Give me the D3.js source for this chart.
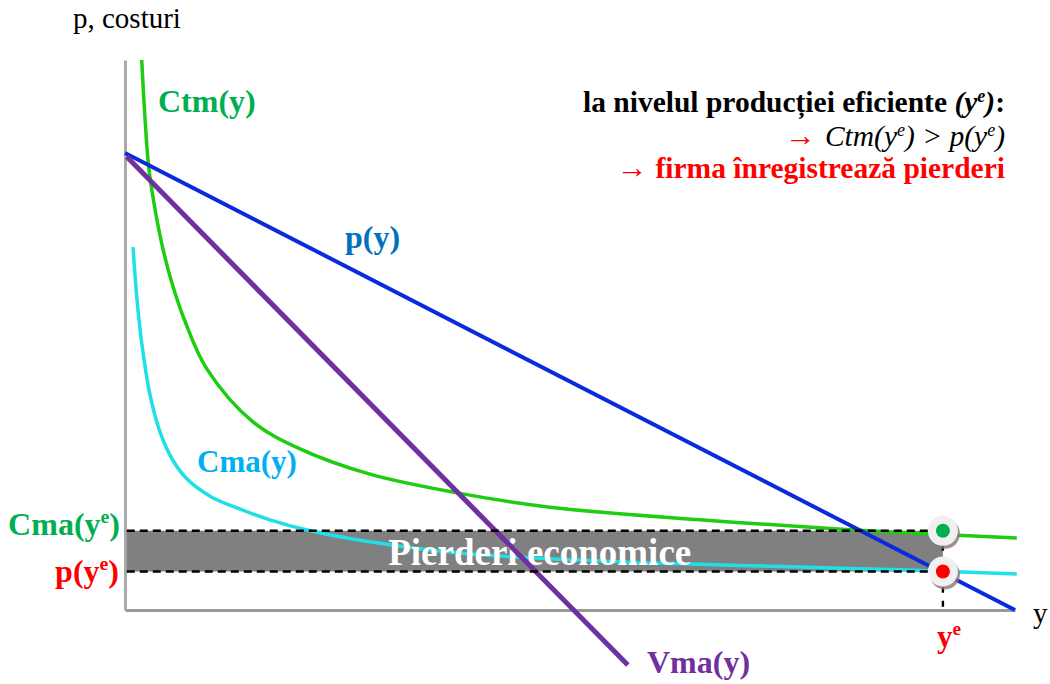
<!DOCTYPE html>
<html>
<head>
<meta charset="utf-8">
<script src="https://cdn.jsdelivr.net/npm/d3@7"></script>
<style>
  body { margin: 0; background: #fff; }
</style>
</head>
<body>
<script>
const WIDTH = 1050;
const HEIGHT = 684;
const FONT = '"Liberation Serif", "Times New Roman", serif';

// curves, [output y, value]
var ctmPoints = [[1.876, 100], [2.225, 90], [2.64, 80.9], [3.2, 74.5], [4.16, 66.4], [5.28, 59.4],
    [6.74, 52.5], [9.21, 43.8], [14.38, 34.2], [19.66, 29.3], [27.53, 24.7], [37.3, 21.3],
    [47.75, 18.7], [64.6, 16.4], [81.8, 14.55], [100.2, 13.1]];
var cmaPoints = [[0.9, 66], [1.35, 56.4], [1.91, 48.2], [2.81, 39.1], [3.93, 32.4], [5.28, 27.5],
    [6.97, 23.8], [9.55, 20.7], [12.58, 18.55], [16.29, 16.4], [20.45, 14.55], [27.53, 12.4],
    [34.27, 10.9], [42.13, 9.8], [53.37, 8.9], [62.7, 8.4], [75.84, 7.8], [87.08, 7.3], [100.2, 6.55]];
var pricePoints = [[0, 83.1], [100, 0]];
var vmaPoints = [[0.2, 82.4], [56.5, -10]];

var ye = 91.9;
var ctmYe = 14.4;
var pYe = 7.0;

var svg = d3.select('body').append('svg')
    .attr('width', WIDTH)
    .attr('height', HEIGHT)
    .attr('font-family', FONT);

var xScale = d3.scaleLinear().domain([0, 100]).range([125, 1015]);
var yScale = d3.scaleLinear().domain([0, 100]).range([610, 60]);

var line = d3.line()
    .x(function (d) { return xScale(d[0]); })
    .y(function (d) { return yScale(d[1]); });
var smooth = d3.line()
    .x(function (d) { return xScale(d[0]); })
    .y(function (d) { return yScale(d[1]); })
    .curve(d3.curveCatmullRom.alpha(0.5));

// axes without ticks
svg.append('g')
    .attr('transform', 'translate(0,' + yScale(0) + ')')
    .call(d3.axisBottom(xScale).tickValues([]).tickSizeOuter(0))
    .select('.domain').attr('stroke', '#999').attr('stroke-width', 3);
svg.append('g')
    .attr('transform', 'translate(' + xScale(0) + ',0)')
    .call(d3.axisLeft(yScale).tickValues([]).tickSizeOuter(0))
    .select('.domain').attr('stroke', '#aaa').attr('stroke-width', 3);

// loss area
svg.append('rect')
    .attr('x', xScale(0.2))
    .attr('y', yScale(ctmYe))
    .attr('width', xScale(ye) - xScale(0.2))
    .attr('height', yScale(pYe) - yScale(ctmYe))
    .attr('fill', '#808080');

svg.append('path').attr('d', smooth(cmaPoints))
    .attr('fill', 'none').attr('stroke', '#1EE0E6').attr('stroke-width', 3.5);
svg.append('path').attr('d', smooth(ctmPoints))
    .attr('fill', 'none').attr('stroke', '#1ECC10').attr('stroke-width', 3.5);

svg.append('text')
    .attr('x', xScale(46.6)).attr('y', 565)
    .attr('text-anchor', 'middle')
    .attr('font-family', FONT)
    .attr('font-size', 37).attr('font-weight', 'bold').attr('fill', '#fff')
    .text('Pierderi economice');

svg.append('path').attr('d', line(pricePoints))
    .attr('fill', 'none').attr('stroke', '#0A2BDC').attr('stroke-width', 4);
svg.append('path').attr('d', line(vmaPoints))
    .attr('fill', 'none').attr('stroke', '#7030A0').attr('stroke-width', 5);

// dashed guides
[ctmYe, pYe].forEach(function (v) {
    svg.append('line')
        .attr('x1', xScale(0.2)).attr('x2', xScale(ye) - 6)
        .attr('y1', yScale(v)).attr('y2', yScale(v))
        .attr('stroke', '#000').attr('stroke-width', 2.4)
        .attr('stroke-dasharray', '8,5');
});
svg.append('line')
    .attr('x1', xScale(ye)).attr('x2', xScale(ye))
    .attr('y1', yScale(ctmYe)).attr('y2', yScale(0))
    .attr('stroke', '#000').attr('stroke-width', 2.4)
    .attr('stroke-dasharray', '6,8');

// markers
[[ctmYe, '#00B050'], [pYe, '#FF0000']].forEach(function (m) {
    var cx = xScale(ye), cy = yScale(m[0]);
    svg.append('circle').attr('cx', cx + 2).attr('cy', cy + 3).attr('r', 15).attr('fill', '#8c7474').attr('opacity', 0.8);
    svg.append('circle').attr('cx', cx).attr('cy', cy).attr('r', 15).attr('fill', '#f0f0f0');
    svg.append('circle').attr('cx', cx).attr('cy', cy).attr('r', 7).attr('fill', m[1]);
});

// labels
function label(x, y, txt, color, size, anchor, bold) {
    return svg.append('text')
        .attr('x', x).attr('y', y)
        .attr('font-family', FONT)
        .attr('fill', color).attr('font-size', size)
        .attr('font-weight', bold ? 'bold' : 'normal')
        .attr('text-anchor', anchor || 'start')
        .text(txt);
}
function sup(t, txt) {
    t.append('tspan').attr('dy', -12).attr('font-size', '0.62em').text(txt);
    return t;
}

label(73, 28, 'p, costuri', '#000', 29, 'start', false);
label(1033, 623, 'y', '#000', 29, 'start', false);
label(158, 112, 'Ctm(y)', '#00B050', 32, 'start', true);
label(345, 248, 'p(y)', '#0070C0', 32, 'start', true);
label(197, 472, 'Cma(y)', '#00B0F0', 31, 'start', true);
label(647, 673, 'Vma(y)', '#7030A0', 32, 'start', true);

var t1 = label(120, 535, 'Cma(y', '#00B050', 32, 'end', true);
sup(t1, 'e');
t1.append('tspan').attr('dy', 12).text(')');
var t2 = label(119, 582, 'p(y', '#FF0000', 32, 'end', true);
sup(t2, 'e');
t2.append('tspan').attr('dy', 12).text(')');
var t3 = label(937, 647, 'y', '#FF0000', 31, 'start', true);
sup(t3, 'e');

// annotation
var a1 = svg.append('text').attr('x', 1005).attr('y', 112)
    .attr('font-family', FONT)
    .attr('text-anchor', 'end').attr('font-size', 29.5).attr('font-weight', 'bold').attr('fill', '#000');
a1.append('tspan').text('la nivelul producției eficiente ');
a1.append('tspan').attr('font-style', 'italic').text('(y');
a1.append('tspan').attr('font-style', 'italic').attr('dy', -10).attr('font-size', 18).text('e');
a1.append('tspan').attr('font-style', 'italic').attr('dy', 10).text(')');
a1.append('tspan').text(':');

label(785, 146, '→', '#FF0000', 31, 'start', false);
var a2 = svg.append('text').attr('x', 1005).attr('y', 146)
    .attr('font-family', FONT)
    .attr('text-anchor', 'end').attr('font-size', 29.5).attr('fill', '#000')
    .attr('font-style', 'italic');
a2.append('tspan').text('Ctm(y');
a2.append('tspan').attr('dy', -10).attr('font-size', 18).text('e');
a2.append('tspan').attr('dy', 10).text(') > p(y');
a2.append('tspan').attr('dy', -10).attr('font-size', 18).text('e');
a2.append('tspan').attr('dy', 10).text(')');

var a3 = label(1005, 178, '', '#FF0000', 29.5, 'end', true);
a3.append('tspan').attr('font-size', 31).text('→ ');
a3.append('tspan').text('firma înregistrează pierderi');
</script>
</body>
</html>
